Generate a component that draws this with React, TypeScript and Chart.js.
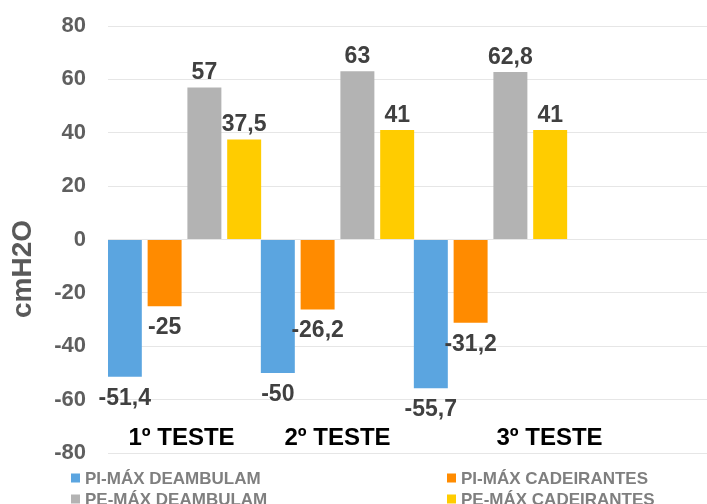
import React, { useEffect, useRef } from 'react';
import { Chart, registerables } from 'chart.js';

Chart.register(...registerables);

const categories = ['1º TESTE', '2º TESTE', '3º TESTE', ''];
const seriesNames = ['PI-MÁX DEAMBULAM', 'PI-MÁX CADEIRANTES', 'PE-MÁX DEAMBULAM', 'PE-MÁX CADEIRANTES'];
const piDeambulam = [-51.4, -50, -55.7, null];
const piCadeirantes = [-25, -26.2, -31.2, null];
const peDeambulam = [57, 63, 62.8, null];
const peCadeirantes = [37.5, 41, 41, null];
const yMin = -80;
const yMax = 80;
const yStep = 20;
const yTitle = 'cmH2O';

const COLORS = ['#5BA5E0', '#FF8B00', '#B3B3B3', '#FFCC00'];
const FONT = '"Liberation Sans", Arial, sans-serif';

const fmt = (v: number) => String(v).replace('.', ',');

const overlayPlugin = {
  id: 'overlay',
  afterDatasetsDraw(chart: any) {
    const ctx = chart.ctx;
    const yScale = chart.scales.y;
    const xScale = chart.scales.x;
    ctx.save();
    ctx.font = `bold 23px ${FONT}`;
    ctx.fillStyle = '#404040';
    ctx.textAlign = 'center';
    ctx.textBaseline = 'alphabetic';
    chart.data.datasets.forEach((ds: any, di: number) => {
      const meta = chart.getDatasetMeta(di);
      meta.data.forEach((el: any, i: number) => {
        const v = ds.data[i];
        if (v === null || v === undefined) return;
        const y = v >= 0 ? el.y - 8 : el.y + 28;
        ctx.fillText(fmt(v), el.x, y);
      });
    });
    const nudges = [-3, 0, 59];
    ctx.font = `bold 24px ${FONT}`;
    ctx.fillStyle = '#000000';
    categories.forEach((c, i) => {
      if (!c) return;
      const x = xScale.getPixelForValue(i) + (nudges[i] || 0);
      ctx.fillText(c, x, yScale.bottom - 8);
    });
    ctx.restore();
  },
  afterDraw(chart: any) {
    const ctx = chart.ctx;
    ctx.save();
    ctx.translate(23, 269);
    ctx.rotate(-Math.PI / 2);
    ctx.font = `bold 28px ${FONT}`;
    ctx.fillStyle = '#595959';
    ctx.textAlign = 'center';
    ctx.textBaseline = 'middle';
    ctx.fillText(yTitle, 0, 0);
    ctx.restore();
    ctx.save();
    ctx.font = `bold 17px ${FONT}`;
    ctx.textAlign = 'left';
    ctx.textBaseline = 'middle';
    const colX = [71, 447];
    const rowY = [478, 499];
    chart.data.datasets.forEach((ds: any, i: number) => {
      const x = colX[i % 2];
      const y = rowY[Math.floor(i / 2)];
      ctx.fillStyle = ds.backgroundColor;
      ctx.fillRect(x, y - 4.5, 9, 9);
      ctx.fillStyle = '#7f7f7f';
      ctx.fillText(ds.label, x + 14, y + 1);
    });
    ctx.restore();
  },
};

export default function App() {
  const ref = useRef<HTMLCanvasElement>(null);
  useEffect(() => {
    document.body.style.margin = '0';
    document.body.style.overflow = 'hidden';
    const seriesData = [piDeambulam, piCadeirantes, peDeambulam, peCadeirantes];
    const chart = new Chart(ref.current as HTMLCanvasElement, {
      type: 'bar',
      data: {
        labels: categories,
        datasets: seriesData.map((d, i) => ({
          label: seriesNames[i],
          data: d,
          backgroundColor: COLORS[i],
          borderWidth: 0,
          categoryPercentage: 1.04,
          barPercentage: 0.854,
        })),
      },
      options: {
        responsive: false,
        animation: false,
        devicePixelRatio: 1,
        layout: { padding: { top: 26, bottom: 51, left: 0, right: 2 } },
        plugins: {
          legend: { display: false },
          tooltip: { enabled: false },
        },
        scales: {
          x: { display: false },
          y: {
            min: yMin,
            max: yMax,
            afterFit: (scale: any) => {
              scale.width = 108;
              scale.paddingTop = 12;
              scale.paddingBottom = 12;
            },
            ticks: {
              stepSize: yStep,
              padding: 22,
              color: '#5f5f5f',
              font: { family: FONT, size: 22, weight: 'bold' },
            },
            border: { display: false },
            grid: { color: '#e6e6e6', lineWidth: 1, drawTicks: false },
          },
        },
      },
      plugins: [overlayPlugin],
    });
    return () => chart.destroy();
  }, []);
  return (
    <div style={{ width: 707, height: 504, overflow: 'hidden', position: 'relative' }}>
      <div style={{ width: 722, height: 504 }}>
        <canvas ref={ref} width={722} height={504} style={{ display: 'block' }} />
      </div>
    </div>
  );
}
